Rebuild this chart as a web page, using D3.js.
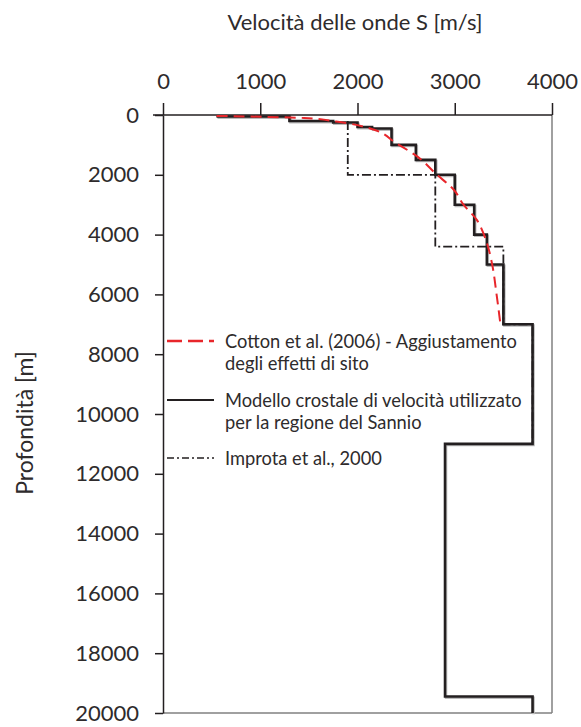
<!DOCTYPE html>
<html>
<head>
<meta charset="utf-8">
<script src="https://cdn.jsdelivr.net/npm/d3@7"></script>
<style>
  body { margin: 0; background: #fff; }
  text { font-family: Lato, "Open Sans", sans-serif; fill: #2e2b2c; }
  .axis path, .axis line { stroke: #231f20; stroke-width: 1.5; }
</style>
</head>
<body>
<svg id="chart" width="581" height="727"></svg>
<script>
// Modello crostale (Sannio): steps as velocity [m/s] / depth [m]
var modelV = [550, 1300, 1300, 1750, 1750, 2000, 2000, 2150, 2150, 2350, 2350, 2600, 2600, 2800, 2800, 3000, 3000, 3200, 3200, 3330, 3330, 3500, 3500, 3800, 3800, 2900, 2900, 3800, 3800];
var modelD = [50, 50, 200, 200, 250, 250, 400, 400, 450, 450, 1000, 1000, 1500, 1500, 2000, 2000, 3000, 3000, 4000, 4000, 5000, 5000, 7000, 7000, 11000, 11000, 19450, 19450, 20000];

// Cotton et al. (2006)
var cottonV = [550, 1450, 1780, 2130, 2400, 2620, 2800, 2990, 3090, 3225, 3300, 3350, 3385, 3430, 3470];
var cottonD = [30, 100, 220, 450, 950, 1400, 1950, 2500, 3000, 3500, 4000, 4500, 5000, 6000, 7000];

// Improta et al., 2000
var improtaV = [1900, 1900, 2800, 2800, 3500, 3500, 3800, 3800, 2900];
var improtaD = [200, 2000, 2000, 4400, 4400, 7000, 7000, 11000, 11000];

var xTicks = [0, 1000, 2000, 3000, 4000];
var yTicks = [0, 2000, 4000, 6000, 8000, 10000, 12000, 14000, 16000, 18000, 20000];

var legendLabels = [
  ["Cotton et al. (2006) - Aggiustamento", "degli effetti di sito"],
  ["Modello crostale di velocità utilizzato", "per la regione del Sannio"],
  ["Improta et al., 2000"]
];

var margin = {top: 115, left: 163, right: 29, bottom: 14};
var width = 581 - margin.left - margin.right;
var height = 727 - margin.top - margin.bottom;

var svg = d3.select("#chart");
var g = svg.append("g").attr("transform", "translate(" + margin.left + "," + margin.top + ")");

var x = d3.scaleLinear().domain([0, 4000]).range([0, width]);
var y = d3.scaleLinear().domain([0, 20000]).range([0, height]);

// frame right / bottom (gray)
g.append("line").attr("x1", width).attr("x2", width).attr("y1", 0).attr("y2", height)
  .attr("stroke", "#808080").attr("stroke-width", 1.5);
g.append("line").attr("x1", 0).attr("x2", width).attr("y1", height).attr("y2", height)
  .attr("stroke", "#808080").attr("stroke-width", 1.5);

var xAxis = d3.axisTop(x).tickValues(xTicks).tickSize(12).tickSizeOuter(0).tickPadding(14).tickFormat(d3.format("d"));
var yAxis = d3.axisLeft(y).tickValues(yTicks).tickSize(8).tickSizeOuter(0).tickPadding(16).tickFormat(d3.format("d"));

var gx = g.append("g").attr("class", "axis").call(xAxis);
var gy = g.append("g").attr("class", "axis").call(yAxis);
gx.selectAll("text").style("font-size", "22px").attr("fill", "#2e2b2c");
gy.selectAll("text").style("font-size", "22px").attr("fill", "#2e2b2c");
gx.select(".domain").attr("d", "M-10,0H" + width);

function pts(vs, ds) { return vs.map(function(v, i){ return [v, ds[i]]; }); }
var line = d3.line().x(function(d){ return x(d[0]); }).y(function(d){ return y(d[1]); });

// solid model with faint shadow
g.append("path").datum(pts(modelV, modelD)).attr("d", line)
  .attr("fill", "none").attr("stroke", "#bbbbbb").attr("stroke-width", 2.5)
  .attr("transform", "translate(1,1.2)");
g.append("path").datum(pts(modelV, modelD)).attr("d", line)
  .attr("fill", "none").attr("stroke", "#231f20").attr("stroke-width", 2.6);

g.append("path").datum(pts(improtaV, improtaD)).attr("d", line)
  .attr("fill", "none").attr("stroke", "#231f20").attr("stroke-width", 1.8)
  .attr("stroke-dasharray", "9,3,2,3");

g.append("path").datum(pts(cottonV, cottonD)).attr("d", d3.line().curve(d3.curveMonotoneY).x(function(d){ return x(d[0]); }).y(function(d){ return y(d[1]); }))
  .attr("fill", "none").attr("stroke", "#e8262b").attr("stroke-width", 2)
  .attr("stroke-dasharray", "11,6");

// legend
var legendStyles = [
  {stroke: "#e8262b", width: 2.4, dash: "15,6"},
  {stroke: "#231f20", width: 2.2, dash: null},
  {stroke: "#231f20", width: 1.5, dash: "7,3,2,3"}
];
var legendY = [341, 400, 458];
var leg = svg.append("g");
legendLabels.forEach(function(lines, i){
  var ly = legendY[i];
  leg.append("line").attr("x1", 167).attr("x2", 214).attr("y1", ly).attr("y2", ly)
    .attr("stroke", legendStyles[i].stroke).attr("stroke-width", legendStyles[i].width)
    .attr("stroke-dasharray", legendStyles[i].dash);
  lines.forEach(function(t, j){
    leg.append("text").attr("x", 225).attr("y", ly + 7 + j * 22)
      .style("font-size", "18.3px").text(t);
  });
});

// axis titles
svg.append("text").attr("x", 355).attr("y", 30).attr("text-anchor", "middle")
  .style("font-size", "22px").text("Velocità delle onde S [m/s]");
svg.append("text").attr("transform", "translate(33,423) rotate(-90)").attr("text-anchor", "middle")
  .style("font-size", "23px").text("Profondità [m]");
</script>
</body>
</html>
